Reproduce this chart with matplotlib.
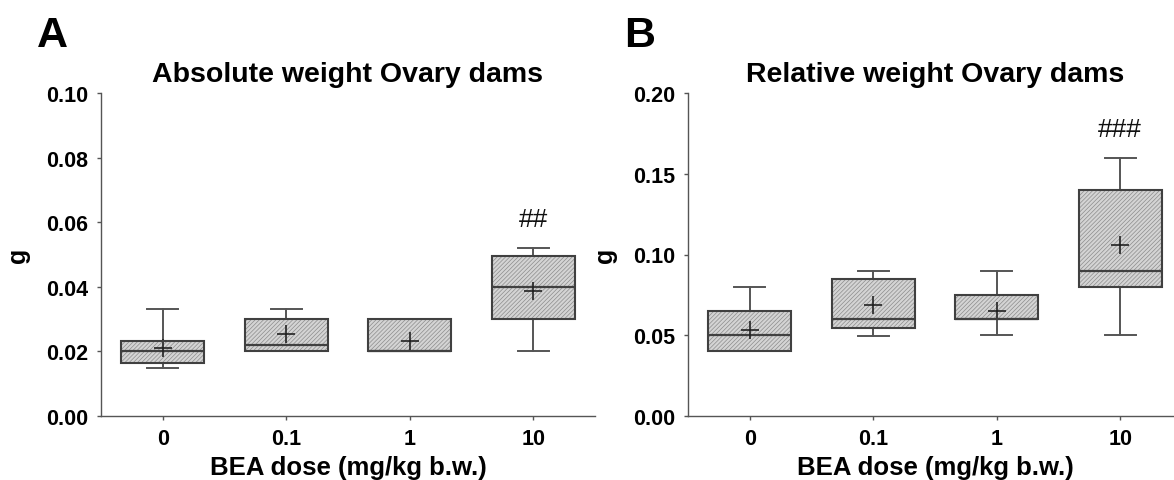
import matplotlib
matplotlib.use('Agg')
import matplotlib.pyplot as plt
from matplotlib.patches import PathPatch

plt.rcParams['font.family'] = ['Liberation Sans', 'DejaVu Sans']
plt.rcParams['hatch.linewidth'] = 0.5

doses = ['0', '0.1', '1', '10']

# panel A: absolute weight (g)
abs_lo = [0.0148, 0.020, 0.020, 0.020]
abs_q1 = [0.0165, 0.020, 0.020, 0.030]
abs_med = [0.020, 0.022, 0.020, 0.040]
abs_q3 = [0.0232, 0.030, 0.030, 0.0496]
abs_hi = [0.033, 0.033, 0.030, 0.052]
abs_mean = [0.0209, 0.0253, 0.0232, 0.0386]

# panel B: relative weight
rel_lo = [0.040, 0.0496, 0.050, 0.050]
rel_q1 = [0.040, 0.0547, 0.060, 0.080]
rel_med = [0.050, 0.060, 0.060, 0.090]
rel_q3 = [0.065, 0.085, 0.075, 0.140]
rel_hi = [0.080, 0.090, 0.090, 0.160]
rel_mean = [0.053, 0.0686, 0.0653, 0.106]

sig_a = ['', '', '', '##']
sig_b = ['', '', '', '###']

W, H = 1174, 481
fig = plt.figure(figsize=(W/100, H/100), dpi=100)

dark = '#404040'
grey = '#555555'


def draw_panel(ax, lo, q1, med, q3, hi, mean, sig, ymax, ystep, title, letter):
    stats = []
    for i in range(len(doses)):
        stats.append({'whislo': lo[i], 'q1': q1[i], 'med': med[i], 'q3': q3[i],
                      'whishi': hi[i], 'mean': mean[i], 'label': doses[i]})
    res = ax.bxp(stats, positions=range(len(doses)), widths=0.67, patch_artist=True,
                 showmeans=True, showfliers=False, capwidths=0.25,
                 boxprops=dict(facecolor='#d4d4d4', edgecolor='#8c8c8c', linewidth=0.5,
                               hatch='////////'),
                 medianprops=dict(color=dark, linewidth=1.6),
                 whiskerprops=dict(color=grey, linewidth=1.4),
                 capprops=dict(color=grey, linewidth=1.4),
                 meanprops=dict(marker='+', markersize=13, markeredgecolor='#222222',
                                markeredgewidth=1.2))
    # dark outline on top of the hatched boxes
    for box in res['boxes']:
        ax.add_patch(PathPatch(box.get_path(), facecolor='none', edgecolor=dark,
                               linewidth=1.5, zorder=box.get_zorder() + 0.1))
    for i, s in enumerate(sig):
        if s:
            ax.text(i, hi[i] + ymax * 0.09, s, ha='center', va='center',
                    fontsize=19, color='#111111')
    ax.set_xlim(-0.5, 3.5)
    ax.set_ylim(0, ymax)
    ticks = [round(k * ystep, 3) for k in range(int(round(ymax / ystep)) + 1)]
    ax.set_yticks(ticks)
    ax.set_yticklabels(['%.2f' % t for t in ticks])
    ax.set_xticks(range(len(doses)))
    ax.set_xticklabels(doses)
    for side in ['top', 'right']:
        ax.spines[side].set_visible(False)
    for side in ['left', 'bottom']:
        ax.spines[side].set_color(grey)
        ax.spines[side].set_linewidth(1.0)
    ax.tick_params(axis='both', direction='out', length=3, width=1, color=grey,
                   labelsize=15.5, pad=6)
    for lab in ax.get_xticklabels() + ax.get_yticklabels():
        lab.set_fontweight('bold')
    ax.set_xlabel('BEA dose (mg/kg b.w.)', fontsize=18.5, fontweight='bold', labelpad=4)
    ax.set_ylabel('g', fontsize=18, fontweight='bold', labelpad=12)
    ax.text(0.5, 1.037, title, transform=ax.transAxes, ha='center', va='baseline',
            fontsize=20.5, fontweight='bold')
    ax.text(-0.13, 1.146, letter, transform=ax.transAxes, ha='left', va='baseline',
            fontsize=31, fontweight='bold')


axA = fig.add_axes([101/W, 1 - 417/H, 494/W, 323/H])
draw_panel(axA, abs_lo, abs_q1, abs_med, abs_q3, abs_hi, abs_mean, sig_a,
           0.10, 0.02, 'Absolute weight Ovary dams', 'A')

axB = fig.add_axes([688/W, 1 - 417/H, 494/W, 323/H])
draw_panel(axB, rel_lo, rel_q1, rel_med, rel_q3, rel_hi, rel_mean, sig_b,
           0.20, 0.05, 'Relative weight Ovary dams', 'B')

fig.savefig('out.png', dpi=100)
